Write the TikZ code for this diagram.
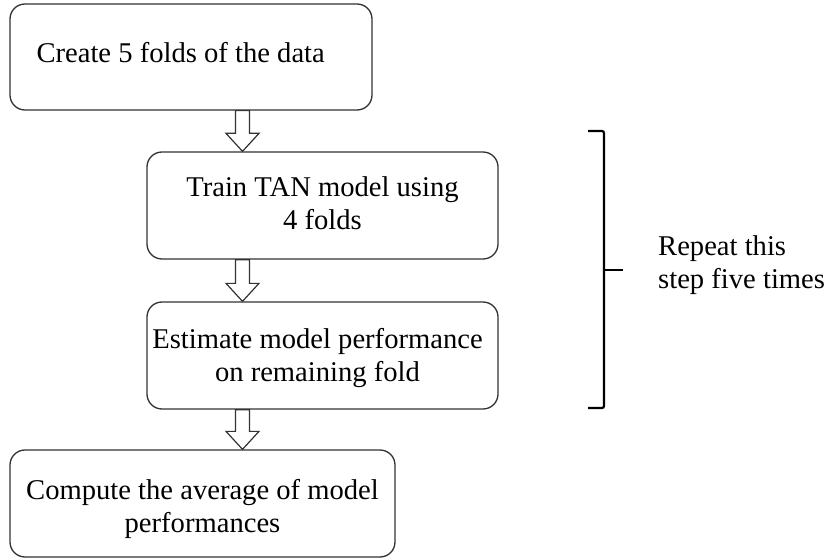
\documentclass[tikz,border=0pt]{standalone}
\usepackage{fontspec}
\setmainfont{Liberation Serif}
\usetikzlibrary{calc}
\begin{document}
\begin{tikzpicture}[x=1pt,y=-1pt,
  txt/.style={font=\fontsize{28.6}{33}\selectfont, inner sep=0pt},
  box/.style={draw=black!80, line width=1.3pt, rounded corners=15pt,
    fill=white, inner sep=0pt},
  hollow/.style={draw=black!80, line width=1.2pt, fill=white, line join=miter,
    to path={let \p1=(\tikztostart), \p2=(\tikztotarget) in
      (\x1-7pt,\y1) -- (\x1+7pt,\y1) -- (\x1+7pt,\y2+18pt)
      -- (\x1+16.5pt,\y2+18pt) -- (\x1,\y2) -- (\x1-16.5pt,\y2+18pt)
      -- (\x1-7pt,\y2+18pt) -- cycle}},
  brace/.style={draw=black, line width=2.2pt, rounded corners=2pt}]
  \useasboundingbox (0,0) rectangle (828,559);

  % process steps
  \node[box, minimum width=362pt, minimum height=106pt] (b1) at (191,57) {};
  \node[box, minimum width=351pt, minimum height=107pt] (b2) at (322.5,205.5) {};
  \node[box, minimum width=351pt, minimum height=107pt] (b3) at (322.5,355.5) {};
  \node[box, minimum width=385pt, minimum height=107pt] (b4) at (202.5,503.5) {};

  % step texts
  \node[txt, anchor=west, xshift=27pt, yshift=4pt] (t1) at (b1.west)
    {Create 5 folds of the data};
  \node[txt, align=center, yshift=2.5pt] (t2) at (b2.center)
    {Train TAN model using\\4 folds};
  \node[txt, align=center, xshift=-5pt, yshift=-3pt] (t3) at (b3.center)
    {Estimate model performance\\on remaining fold};
  \node[txt, align=center, yshift=-5pt] (t4) at (b4.center)
    {Compute the average of model\\performances};

  % hollow block arrows on a common axis
  \coordinate (ax) at (242.5,0);
  \draw[hollow] (b1.south -| ax) to (b2.north -| ax);
  \draw[hollow] (b2.south -| ax) to (b3.north -| ax);
  \draw[hollow] (b3.south -| ax) to (b4.north -| ax);

  % brace spanning the repeated steps
  \coordinate (bt) at (588,131);
  \coordinate (bb) at (588,408);
  \coordinate (bm) at (623,270);
  \draw[brace] (bt) -- (604,131) -- (604,408) -- (bb);
  \draw[brace] (604,270) -- (bm);
  \node[txt, anchor=west, align=left] (rep) at (658,265)
    {Repeat this\\step five times};
\end{tikzpicture}
\end{document}
